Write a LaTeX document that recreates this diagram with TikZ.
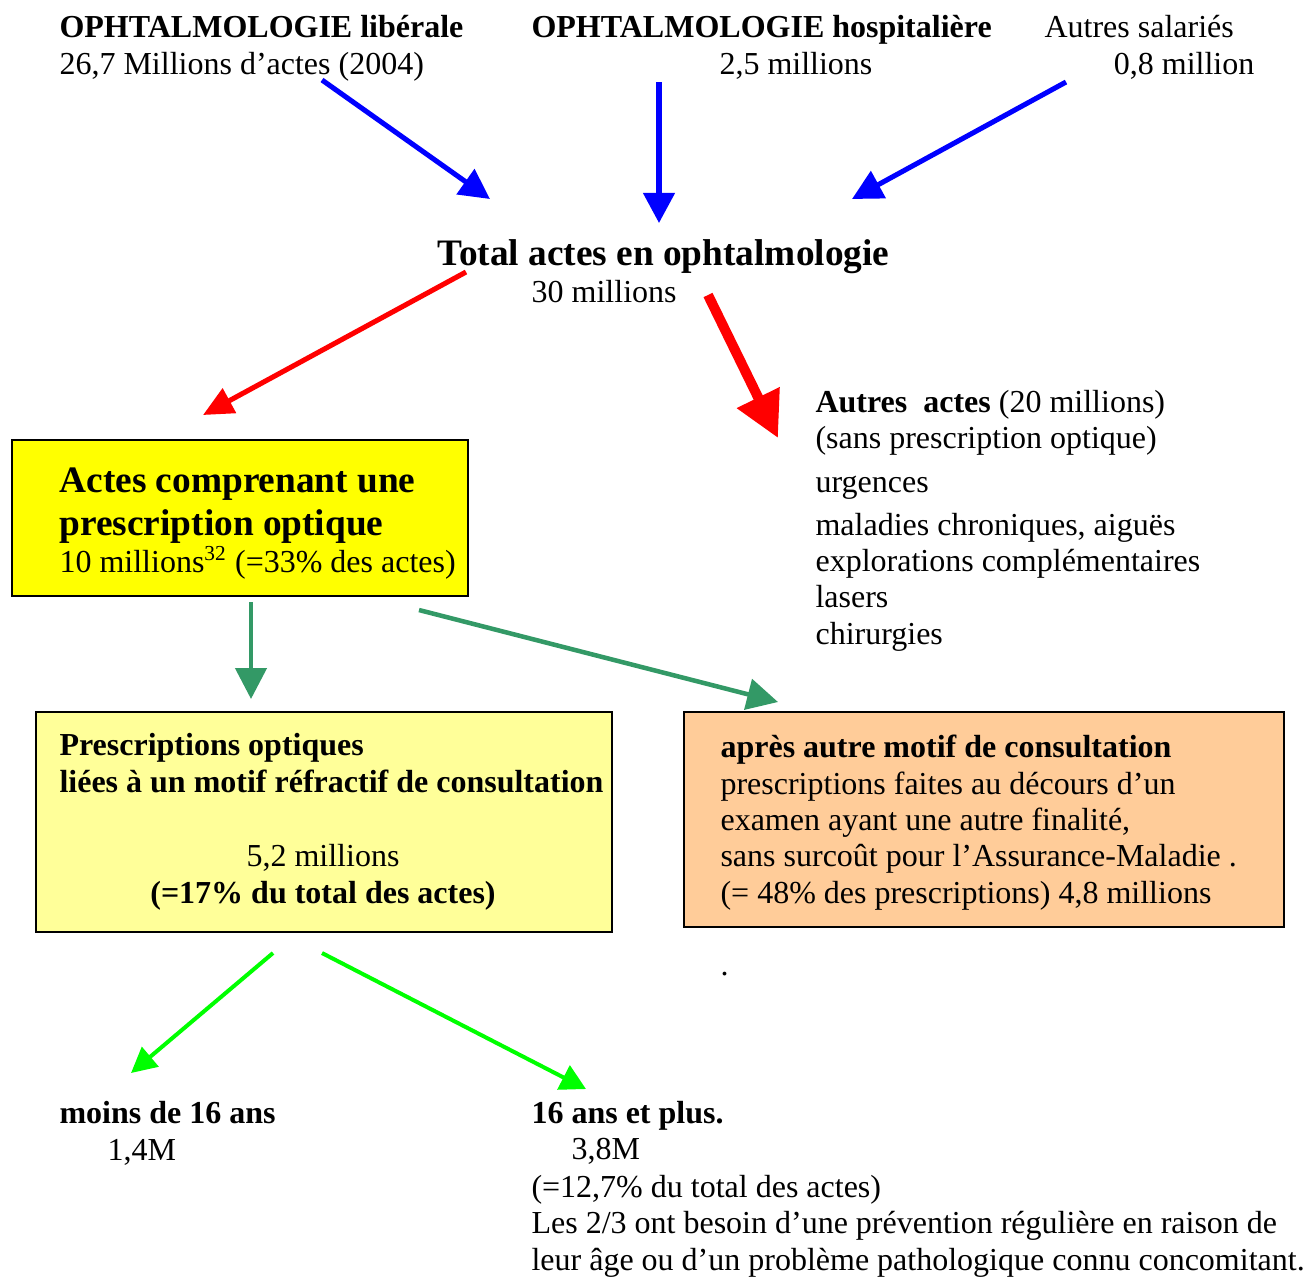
\documentclass[tikz,border=0pt]{standalone}
\usepackage{fontspec}
\setmainfont{Liberation Serif}
\usetikzlibrary{arrows.meta}
\definecolor{bleu}{RGB}{0,0,255}
\definecolor{rouge}{RGB}{255,0,0}
\definecolor{vertclair}{RGB}{0,255,0}
\definecolor{vertfonce}{RGB}{51,153,102}
\definecolor{jaune}{RGB}{255,255,0}
\definecolor{jaunepale}{RGB}{255,255,153}
\definecolor{peche}{RGB}{255,204,153}
\def\gros{\fontsize{14}{16}\selectfont\bfseries}
\tikzset{
  % base west = baseline of the last line
  texte/.style={anchor=base west, inner sep=0pt, align=left, font=\fontsize{12}{13.6}\selectfont},
  boite/.style={draw, line width=0.75pt, anchor=north west, inner sep=0pt},
  fleche/.style n args={3}{line width=#1, -{Triangle[length=#2, width=#3]}}
}

\begin{document}
\begin{tikzpicture}[x=0.375pt, y=-0.375pt]
  \useasboundingbox (0,0) rectangle (1304,1277);
  %%%%% SOURCES %%%%%
  \node[texte] (liberale) at (59,74) {\textbf{OPHTALMOLOGIE libérale}\\26,7 Millions d’actes (2004)};
  \node[texte] (hospi) at (531,74) {\textbf{OPHTALMOLOGIE hospitalière}\\\hspace*{70.5pt}2,5 millions};
  \node[texte] (salaries) at (1044,74) {Autres salariés\\\hspace*{26pt}0,8 million};

  \coordinate (lib0) at (322,80);   \coordinate (lib1) at (490,199);
  \coordinate (hos0) at (659,82);   \coordinate (hos1) at (659,223);
  \coordinate (sal0) at (1066,82);  \coordinate (sal1) at (852,199);
  \draw[bleu, fleche={1.9pt}{11.3pt}{11.3pt}] (lib0) -- (lib1);
  \draw[bleu, fleche={1.9pt}{11.3pt}{11.6pt}] (hos0) -- (hos1);
  \draw[bleu, fleche={1.9pt}{11.3pt}{11.3pt}] (sal0) -- (sal1);

  %%%%% TOTAL %%%%%
  \node[texte] (total) at (437,302) {{\gros Total actes en ophtalmologie}\\\hspace*{35.3pt}30 millions};

  \coordinate (tot0) at (466,272);  \coordinate (tot1) at (203,415);
  \coordinate (aut0) at (708,295);  \coordinate (aut1) at (778,438);
  \draw[rouge, fleche={1.9pt}{11.3pt}{10.2pt}] (tot0) -- (tot1);
  \draw[rouge, fleche={3.75pt}{16.9pt}{16.9pt}] (aut0) -- (aut1);

  \node[texte] (autres) at (815,644) {\textbf{Autres\ \ actes} (20 millions)\\(sans prescription optique)\\[2.6pt]urgences\\[2.6pt]maladies chroniques, aiguës\\explorations complémentaires\\lasers\\chirurgies};

  %%%%% PRESCRIPTIONS %%%%%
  \node[boite, fill=jaune, minimum width=171pt, minimum height=58.5pt] (optbox) at (11,439) {};
  \node[texte] (optique) at (59,572) {{\gros Actes comprenant une}\\[2.5pt]{\gros prescription optique}\\10 millions\textsuperscript{32} (=33\% des actes)};

  \coordinate (opt0) at (251,602);  \coordinate (opt1) at (251,699);
  \coordinate (opt2) at (419,610);  \coordinate (opt3) at (778,702);
  \draw[vertfonce, fleche={1.7pt}{11.6pt}{11.6pt}] (opt0) -- (opt1);
  \draw[vertfonce, fleche={1.7pt}{11.6pt}{11.6pt}] (opt2) -- (opt3);

  \node[boite, fill=jaunepale, minimum width=216pt, minimum height=82.5pt] (refbox) at (35,711) {};
  \node[texte] (refractif) at (59,792) {\textbf{Prescriptions optiques}\\\textbf{liées à un motif réfractif de consultation}};
  \node[texte, anchor=base, align=center] (refval) at (323,903) {5,2 millions\\\textbf{(=17\% du total des actes)}};

  \node[boite, fill=peche, minimum width=225pt, minimum height=80.6pt] (autrebox) at (683,711) {};
  \node[texte] (autremotif) at (720,903) {\textbf{après autre motif de consultation}\\prescriptions faites au décours d’un\\examen ayant une autre finalité,\\sans surcoût pour l’Assurance-Maladie .\\(= 48\% des prescriptions) 4,8 millions};
  \node[texte] (point) at (720,975) {.};

  %%%%% AGES %%%%%
  \coordinate (age0) at (273,953);  \coordinate (age1) at (131,1073);
  \coordinate (age2) at (322,953);  \coordinate (age3) at (586,1089);
  \draw[vertclair, fleche={1.5pt}{9.5pt}{9.5pt}] (age0) -- (age1);
  \draw[vertclair, fleche={1.5pt}{9.5pt}{10pt}] (age2) -- (age3);

  \node[texte] (moins) at (59,1160) {\textbf{moins de 16 ans}\\\hspace*{18pt}1,4M};
  \node[texte] (plus) at (531,1270) {\textbf{16 ans et plus.}\\\hspace*{15pt}3,8M\\[0.5pt](=12,7\% du total des actes)\\Les 2/3 ont besoin d’une prévention régulière en raison de\\leur âge ou d’un problème pathologique connu concomitant.};
\end{tikzpicture}
\end{document}
